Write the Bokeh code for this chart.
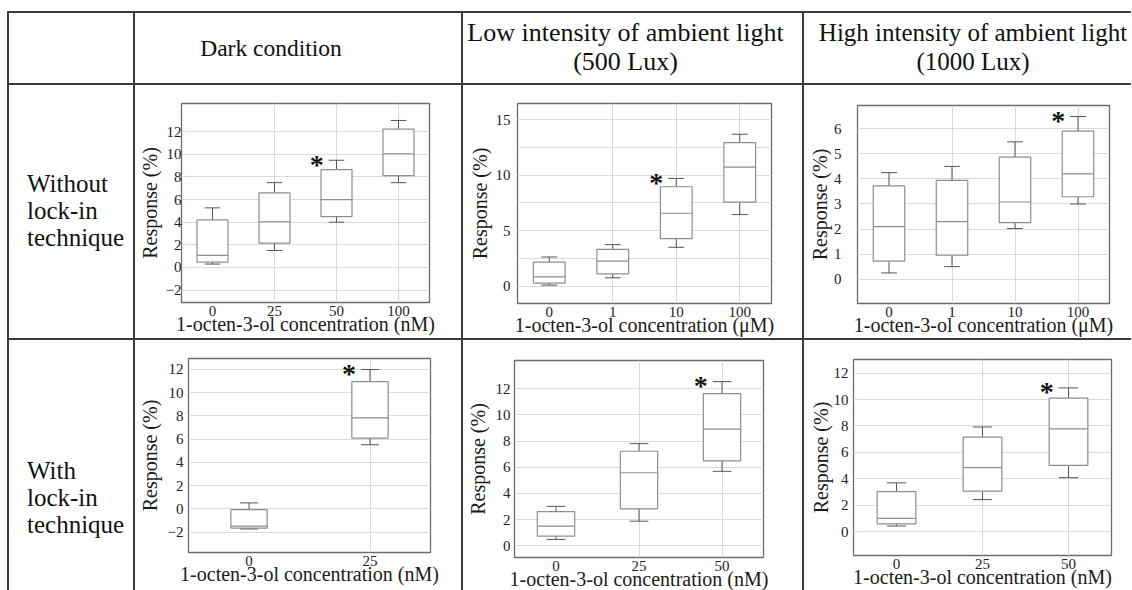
from bokeh.plotting import figure
from bokeh.layouts import column, row
from bokeh.models import (Div, FactorRange, Range1d, FixedTicker,
                          SingleIntervalTicker, ColumnDataSource)
from bokeh.transform import dodge
from bokeh.core.properties import value
from bokeh.embed import file_html
from bokeh.resources import INLINE

FONT = "Liberation Serif"

# ---------------- texts ----------------
col_titles = [["Dark condition"],
              ["Low intensity of ambient light", "(500 Lux)"],
              ["High intensity of ambient light", "(1000 Lux)"]]
row_titles = [["Without", "lock-in", "technique"],
              ["With", "lock-in", "technique"]]
x_title_nM = "1-octen-3-ol concentration (nM)"
x_title_uM = "1-octen-3-ol concentration (\u03bcM)"
y_title = "Response (%)"

# ---------------- data (box statistics) ----------------
# Dark condition, without lock-in
a_cats = ["0", "25", "50", "100"]
a_lo = [0.30, 1.50, 4.00, 7.50]
a_q1 = [0.47, 2.16, 4.50, 8.12]
a_med = [1.07, 4.03, 6.00, 10.04]
a_q3 = [4.20, 6.60, 8.65, 12.24]
a_hi = [5.27, 7.50, 9.48, 13.00]
a_sig = ["50"]
a_yticks = [-2, 0, 2, 4, 6, 8, 10, 12]

# Low intensity (500 Lux), without lock-in
b_cats = ["0", "1", "10", "100"]
b_lo = [0.12, 0.78, 3.52, 6.46]
b_q1 = [0.30, 1.14, 4.30, 7.57]
b_med = [0.87, 2.28, 6.58, 10.73]
b_q3 = [2.19, 3.34, 8.96, 12.92]
b_hi = [2.65, 3.76, 9.71, 13.68]
b_sig = ["10"]
b_ytick_interval = 5

# High intensity (1000 Lux), without lock-in
c_cats = ["0", "1", "10", "100"]
c_lo = [0.25, 0.50, 2.02, 3.00]
c_q1 = [0.72, 0.96, 2.26, 3.29]
c_med = [2.10, 2.30, 3.08, 4.20]
c_q3 = [3.72, 3.94, 4.87, 5.91]
c_hi = [4.25, 4.50, 5.48, 6.49]
c_sig = ["100"]
c_yticks = [0, 1, 2, 3, 4, 5, 6]

# Dark condition, with lock-in
d_cats = ["0", "25"]
d_lo = [-1.72, 5.52]
d_q1 = [-1.64, 6.09]
d_med = [-1.47, 7.82]
d_q3 = [-0.06, 10.95]
d_hi = [0.52, 11.98]
d_sig = ["25"]
d_yticks = [-2, 0, 2, 4, 6, 8, 10, 12]

# Low intensity, with lock-in
e_cats = ["0", "25", "50"]
e_lo = [0.50, 1.89, 5.69]
e_q1 = [0.75, 2.82, 6.49]
e_med = [1.51, 5.58, 8.91]
e_q3 = [2.62, 7.22, 11.62]
e_hi = [3.02, 7.80, 12.53]
e_sig = ["50"]
e_yticks = [0, 2, 4, 6, 8, 10, 12]

# High intensity, with lock-in
f_cats = ["0", "25", "50"]
f_lo = [0.42, 2.42, 4.08]
f_q1 = [0.59, 3.06, 5.01]
f_med = [1.00, 4.84, 7.78]
f_q3 = [3.03, 7.16, 10.10]
f_hi = [3.69, 7.92, 10.88]
f_sig = ["50"]
f_yticks = [0, 2, 4, 6, 8, 10, 12]

# ---------------- styles ----------------
LINE = "#3a3a3a"
BOX = "#8e8e8e"
WHISK = "#555555"
GRID = "#dadada"
FRAME = "#6b6b6b"


def make_panel(cats, lo, q1, med, q3, hi, sig, xlab, yr, ticker, w, h,
               mb, bw, y_std, y_lab_std, minor_grid=False, extra_styles=None):
    L, R, T, B = mb
    kw = {}
    if extra_styles:
        kw["styles"] = extra_styles
    p = figure(width=w, height=h, x_range=FactorRange(*cats),
               y_range=Range1d(*yr), output_backend="svg",
               toolbar_location=None, min_border_left=L, min_border_right=R,
               min_border_top=T, min_border_bottom=B, frame_align=False,
               background_fill_color="white", border_fill_color="white", **kw)
    p.x_range.range_padding = 0
    p.outline_line_color = FRAME
    p.outline_line_width = 1.3
    src = ColumnDataSource(dict(cat=cats, lo=lo, q1=q1, med=med, q3=q3, hi=hi))
    # whiskers
    p.segment(x0="cat", x1="cat", y0="q3", y1="hi", source=src,
              line_color=WHISK, line_width=1)
    p.segment(x0="cat", x1="cat", y0="lo", y1="q1", source=src,
              line_color=WHISK, line_width=1)
    for f in ("hi", "lo"):
        p.segment(x0=dodge("cat", -bw / 4, range=p.x_range),
                  x1=dodge("cat", bw / 4, range=p.x_range),
                  y0=f, y1=f, source=src, line_color=WHISK, line_width=1)
    # boxes
    p.vbar(x="cat", width=bw, bottom="q1", top="q3", source=src,
           fill_color="white", line_color=BOX, line_width=1.2)
    p.segment(x0=dodge("cat", -bw / 2, range=p.x_range),
              x1=dodge("cat", bw / 2, range=p.x_range),
              y0="med", y1="med", source=src, line_color=BOX, line_width=1.2)
    # significance stars
    s_hi = [hi[cats.index(c)] for c in sig]
    ssrc = ColumnDataSource(dict(cat=sig, hi=s_hi))
    p.text(x=dodge("cat", -bw / 4, range=p.x_range), y="hi", text=value("*"),
           source=ssrc, text_font=value(FONT), text_font_size="28px",
           text_font_style="bold", text_align="right", text_baseline="middle",
           x_offset=-5, y_offset=4, text_color="#111111")
    # axes
    p.yaxis.ticker = ticker
    p.xaxis.axis_label = xlab
    p.yaxis.axis_label = y_title
    for ax in (p.xaxis[0], p.yaxis[0]):
        ax.axis_label_text_font = FONT
        ax.axis_label_text_font_style = "normal"
        ax.axis_label_text_font_size = "20px"
        ax.axis_label_text_color = "#1a1a1a"
        ax.major_label_text_font = FONT
        ax.major_label_text_font_size = "15px"
        ax.major_label_text_color = "#222222"
        ax.axis_line_color = None
        ax.major_tick_in = 0
        ax.major_tick_out = 0
        ax.minor_tick_in = 0
        ax.minor_tick_out = 0
        ax.major_tick_line_color = None
        ax.minor_tick_line_color = None
    p.xaxis.major_label_standoff = 3
    p.xaxis.axis_label_standoff = -6
    p.yaxis.major_label_standoff = y_std
    p.yaxis.axis_label_standoff = y_lab_std
    p.xgrid.grid_line_color = GRID
    p.ygrid.grid_line_color = GRID
    if minor_grid:
        p.ygrid.minor_grid_line_color = GRID
    return p


# row heights / column widths of the table
TOP_PAD, LEFT_PAD = 11, 7
HDR_H, R1_H, R2_H, R2_FIG_H = 70, 253, 250, 260
C0_W, C1_W, C2_W, C3_W = 124, 326, 339, 327
TOTAL_W = 2 + C0_W + 2 + C1_W + 2 + C2_W + 2 + C3_W
NOSHRINK = {"flex-shrink": "0", "min-height": f"{R2_FIG_H}px"}

pa = make_panel(a_cats, a_lo, a_q1, a_med, a_q3, a_hi, a_sig, x_title_nM,
                (-3.1, 14.5), FixedTicker(ticks=a_yticks), C1_W, R1_H,
                (43, 32, 18, 36), 0.5, 0, 2)
pb = make_panel(b_cats, b_lo, b_q1, b_med, b_q3, b_hi, b_sig, x_title_uM,
                (-1.53, 16.44),
                SingleIntervalTicker(interval=b_ytick_interval, num_minor_ticks=2),
                C2_W, R1_H, (54, 31, 18, 35), 0.5, 7, 2, minor_grid=True)
pc = make_panel(c_cats, c_lo, c_q1, c_med, c_q3, c_hi, c_sig, x_title_uM,
                (-0.97, 6.93), FixedTicker(ticks=c_yticks), C3_W, R1_H,
                (53, 22, 20, 35), 0.5, 16, 0)
pd = make_panel(d_cats, d_lo, d_q1, d_med, d_q3, d_hi, d_sig, x_title_nM,
                (-3.74, 12.93), FixedTicker(ticks=d_yticks), C1_W, R2_FIG_H,
                (52, 31, 18, 48), 0.3, 5, 4, extra_styles=NOSHRINK)
pe = make_panel(e_cats, e_lo, e_q1, e_med, e_q3, e_hi, e_sig, x_title_nM,
                (-0.88, 14.14), FixedTicker(ticks=e_yticks), C2_W, R2_FIG_H,
                (48, 39, 20, 43), 0.45, 4, 4, extra_styles=NOSHRINK)
pf = make_panel(f_cats, f_lo, f_q1, f_med, f_q3, f_hi, f_sig, x_title_nM,
                (-1.81, 13.03), FixedTicker(ticks=f_yticks), C3_W, R2_FIG_H,
                (49, 20, 19, 45), 0.45, 5, -1, extra_styles=NOSHRINK)


def vsep(h):
    return Div(text="", width=2, height=h, margin=0,
               styles={"background-color": LINE})


def hsep():
    return Div(text="", width=TOTAL_W, height=2, margin=0,
               styles={"background-color": LINE})


def text_cell(lines, w, h, size, lh, extra=""):
    inner = "<br>".join(lines)
    html = (f'<div style="box-sizing:border-box;width:{w}px;height:{h}px;'
            f'display:flex;align-items:center;justify-content:center;'
            f"font-family:'{FONT}',serif;font-size:{size}px;line-height:{lh}px;"
            f'color:#111;white-space:nowrap;text-align:center;{extra}">'
            f'<div>{inner}</div></div>')
    return Div(text=html, width=w, height=h, margin=0)


def row_cell(lines, w, h, extra=""):
    inner = "<br>".join(lines)
    html = (f'<div style="box-sizing:border-box;width:{w}px;height:{h}px;'
            f'display:flex;align-items:center;justify-content:flex-start;'
            f"font-family:'{FONT}',serif;font-size:25px;line-height:27px;"
            f'color:#111;white-space:nowrap;text-align:left;padding-left:18px;{extra}">'
            f'<div>{inner}</div></div>')
    return Div(text=html, width=w, height=h, margin=0)


header = row(vsep(HDR_H), Div(text="", width=C0_W, height=HDR_H, margin=0),
             vsep(HDR_H), text_cell(col_titles[0], C1_W, HDR_H, 23.5, 29, "padding-right:54px;"),
             vsep(HDR_H), text_cell(col_titles[1], C2_W, HDR_H, 26, 29, "padding-right:14px;padding-bottom:3px;"),
             vsep(HDR_H), text_cell(col_titles[2], C3_W, HDR_H, 25, 29, "padding-left:11px;padding-bottom:3px;"),
             spacing=0)
row1 = row(vsep(R1_H), row_cell(row_titles[0], C0_W, R1_H, "padding-bottom:2px;"),
           vsep(R1_H), pa, vsep(R1_H), pb, vsep(R1_H), pc, spacing=0)
row2_inner = row(vsep(R2_FIG_H),
                 row_cell(row_titles[1], C0_W, R2_FIG_H, "padding-top:64px;padding-bottom:10px;"),
                 vsep(R2_FIG_H), pd, vsep(R2_FIG_H), pe, vsep(R2_FIG_H), pf, spacing=0,
                 styles=dict(NOSHRINK))
row2 = column(row2_inner, spacing=0,
              styles={"height": f"{R2_H}px", "max-height": f"{R2_H}px",
                      "overflow": "hidden"})

table = column(Div(text="", width=TOTAL_W, height=TOP_PAD, margin=0),
               hsep(), header, hsep(), row1, hsep(), row2, spacing=0)
layout = row(Div(text="", width=LEFT_PAD, height=10, margin=0), table, spacing=0)

open("out.html", "w").write(file_html(layout, INLINE))
